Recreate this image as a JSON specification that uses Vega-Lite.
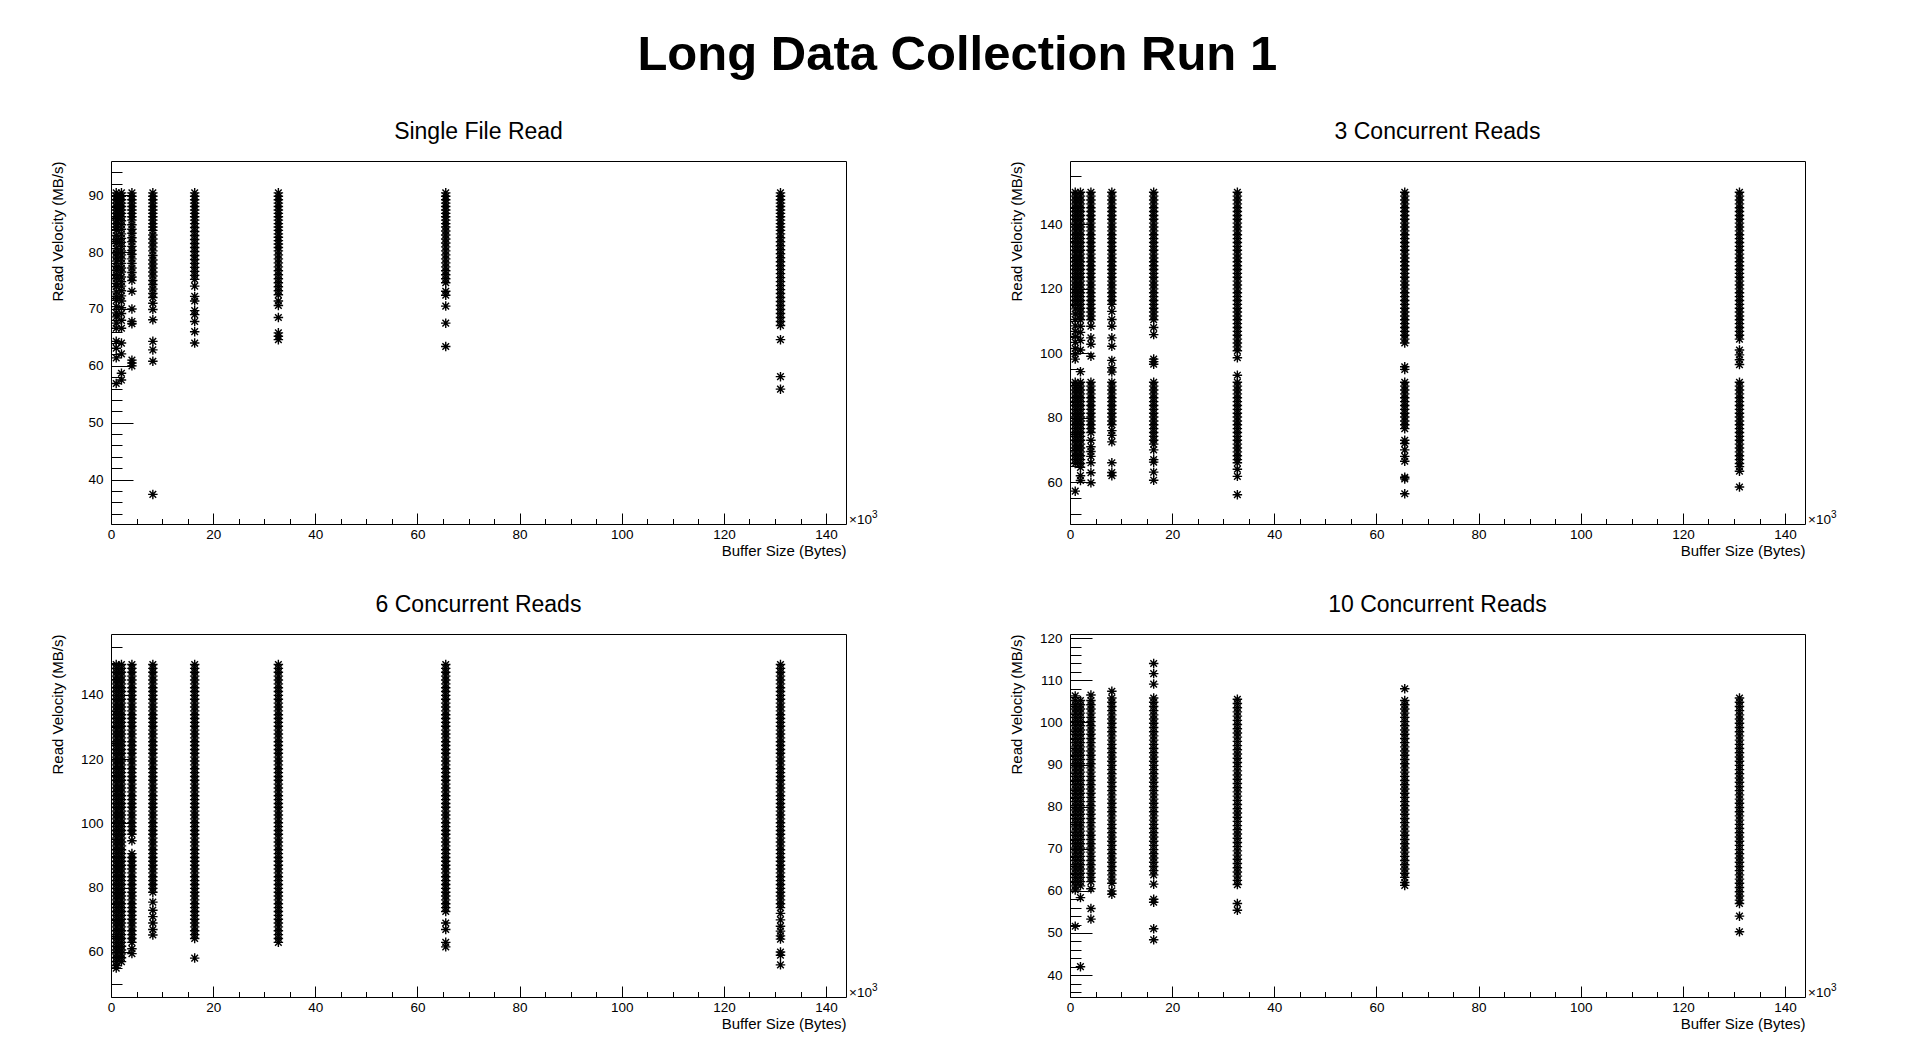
{
  "$schema": "https://vega.github.io/schema/vega-lite/v6.json",
  "background": "white",
  "padding": {"left": 49, "top": 30, "right": 10, "bottom": 5},
  "title": {
    "text": "Long Data Collection Run 1",
    "font": "Liberation Sans",
    "fontSize": 49,
    "fontWeight": "bold",
    "color": "black",
    "anchor": "middle",
    "baseline": "alphabetic",
    "dx": 14,
    "offset": 2
  },
  "config": {
    "view": {"stroke": "black", "strokeWidth": 1},
    "font": "Liberation Sans",
    "title": {"font": "Liberation Sans", "fontSize": 23, "fontWeight": "normal", "color": "black", "baseline": "alphabetic", "offset": 17},
    "axis": {
      "grid": false,
      "domain": false,
      "labelFont": "Liberation Sans",
      "labelFontSize": 13.5,
      "labelColor": "black",
      "labelOverlap": false,
      "labelFlush": false,
      "labelBound": false,
      "titleFont": "Liberation Sans",
      "titleFontSize": 15,
      "titleFontWeight": "normal",
      "titleColor": "black",
      "tickColor": "black",
      "tickWidth": 1
    },
    "point": {"shape": "M-1,0L1,0M0,-1L0,1M-0.7,-0.7L0.7,0.7M-0.7,0.7L0.7,-0.7", "filled": false, "stroke": "black", "strokeWidth": 1.4, "size": 90, "opacity": 1}
  },
  "columns": 2,
  "spacing": {"row": 110, "column": 224},
  "bounds": "flush",
  "datasets": {
    "a": [
      {"x":1024,"y":90.4},{"x":1024,"y":89.8},{"x":1024,"y":89.2},{"x":1024,"y":88.6},{"x":1024,"y":88},{"x":1024,"y":87.4},{"x":1024,"y":86.8},{"x":1024,"y":86.2},{"x":1024,"y":85.6},{"x":1024,"y":85},{"x":1024,"y":84.4},{"x":1024,"y":83.8},{"x":1024,"y":82.9},{"x":1024,"y":82.2},{"x":1024,"y":81.5},{"x":1024,"y":80.6},{"x":1024,"y":79.8},{"x":1024,"y":79.1},{"x":1024,"y":78.4},{"x":1024,"y":77.5},{"x":1024,"y":76.8},{"x":1024,"y":76},{"x":1024,"y":75.3},{"x":1024,"y":74.5},{"x":1024,"y":73.9},{"x":1024,"y":73},{"x":1024,"y":72.2},{"x":1024,"y":71.5},{"x":1024,"y":70.4},{"x":1024,"y":69.3},{"x":1024,"y":68.6},{"x":1024,"y":67.5},{"x":1024,"y":66.6},{"x":1024,"y":64.3},{"x":1024,"y":63.1},{"x":1024,"y":61.4},{"x":1024,"y":56.9},
      {"x":2048,"y":90.4},{"x":2048,"y":89.8},{"x":2048,"y":89.2},{"x":2048,"y":88.6},{"x":2048,"y":88},{"x":2048,"y":87.4},{"x":2048,"y":86.8},{"x":2048,"y":86.2},{"x":2048,"y":85.5},{"x":2048,"y":84.8},{"x":2048,"y":84},{"x":2048,"y":83.2},{"x":2048,"y":82.4},{"x":2048,"y":81.7},{"x":2048,"y":81},{"x":2048,"y":80.2},{"x":2048,"y":79.5},{"x":2048,"y":78.8},{"x":2048,"y":78},{"x":2048,"y":77.2},{"x":2048,"y":76.5},{"x":2048,"y":75.6},{"x":2048,"y":74.8},{"x":2048,"y":74},{"x":2048,"y":73.2},{"x":2048,"y":72.3},{"x":2048,"y":71.4},{"x":2048,"y":70.2},{"x":2048,"y":69.2},{"x":2048,"y":68},{"x":2048,"y":66.6},{"x":2048,"y":64},{"x":2048,"y":62.1},{"x":2048,"y":58.7},{"x":2048,"y":57.5},
      {"x":4096,"y":90.4},{"x":4096,"y":89.8},{"x":4096,"y":89.2},{"x":4096,"y":88.6},{"x":4096,"y":88},{"x":4096,"y":87.4},{"x":4096,"y":86.8},{"x":4096,"y":86.2},{"x":4096,"y":85.6},{"x":4096,"y":84.8},{"x":4096,"y":84},{"x":4096,"y":83.3},{"x":4096,"y":82.5},{"x":4096,"y":81.8},{"x":4096,"y":81},{"x":4096,"y":80.3},{"x":4096,"y":79.6},{"x":4096,"y":78.8},{"x":4096,"y":78},{"x":4096,"y":77.2},{"x":4096,"y":76.4},{"x":4096,"y":75.6},{"x":4096,"y":75},{"x":4096,"y":73.1},{"x":4096,"y":70},{"x":4096,"y":67.8},{"x":4096,"y":67.4},{"x":4096,"y":61},{"x":4096,"y":60.5},{"x":4096,"y":60},
      {"x":8192,"y":90.4},{"x":8192,"y":89.8},{"x":8192,"y":89.2},{"x":8192,"y":88.6},{"x":8192,"y":88},{"x":8192,"y":87.4},{"x":8192,"y":86.8},{"x":8192,"y":86.2},{"x":8192,"y":85.6},{"x":8192,"y":85},{"x":8192,"y":84.4},{"x":8192,"y":83.8},{"x":8192,"y":83},{"x":8192,"y":82.3},{"x":8192,"y":81.6},{"x":8192,"y":80.9},{"x":8192,"y":80.2},{"x":8192,"y":79.4},{"x":8192,"y":78.6},{"x":8192,"y":77.9},{"x":8192,"y":77.2},{"x":8192,"y":76.5},{"x":8192,"y":75.8},{"x":8192,"y":75},{"x":8192,"y":74.3},{"x":8192,"y":73.5},{"x":8192,"y":72.7},{"x":8192,"y":72},{"x":8192,"y":71},{"x":8192,"y":69.9},{"x":8192,"y":68.1},{"x":8192,"y":64.3},{"x":8192,"y":62.8},{"x":8192,"y":60.8},{"x":8192,"y":37.4},
      {"x":16384,"y":90.4},{"x":16384,"y":89.8},{"x":16384,"y":89.2},{"x":16384,"y":88.6},{"x":16384,"y":88},{"x":16384,"y":87.4},{"x":16384,"y":86.8},{"x":16384,"y":86.2},{"x":16384,"y":85.6},{"x":16384,"y":85},{"x":16384,"y":84.3},{"x":16384,"y":83.6},{"x":16384,"y":82.9},{"x":16384,"y":82.2},{"x":16384,"y":81.5},{"x":16384,"y":80.8},{"x":16384,"y":80.1},{"x":16384,"y":79.4},{"x":16384,"y":78.7},{"x":16384,"y":78},{"x":16384,"y":77.3},{"x":16384,"y":76.6},{"x":16384,"y":75.9},{"x":16384,"y":75.2},{"x":16384,"y":74},{"x":16384,"y":72.2},{"x":16384,"y":71.4},{"x":16384,"y":69.7},{"x":16384,"y":69},{"x":16384,"y":67.8},{"x":16384,"y":66},{"x":16384,"y":64},
      {"x":32768,"y":90.4},{"x":32768,"y":89.8},{"x":32768,"y":89.2},{"x":32768,"y":88.6},{"x":32768,"y":88},{"x":32768,"y":87.4},{"x":32768,"y":86.8},{"x":32768,"y":86.2},{"x":32768,"y":85.6},{"x":32768,"y":85},{"x":32768,"y":84.4},{"x":32768,"y":83.8},{"x":32768,"y":83.2},{"x":32768,"y":82.6},{"x":32768,"y":82},{"x":32768,"y":81.4},{"x":32768,"y":80.8},{"x":32768,"y":80.2},{"x":32768,"y":79.5},{"x":32768,"y":78.8},{"x":32768,"y":78.1},{"x":32768,"y":77.4},{"x":32768,"y":76.7},{"x":32768,"y":76},{"x":32768,"y":75.3},{"x":32768,"y":74.6},{"x":32768,"y":73.9},{"x":32768,"y":73.2},{"x":32768,"y":72.5},{"x":32768,"y":71.4},{"x":32768,"y":70.6},{"x":32768,"y":68.5},{"x":32768,"y":65.8},{"x":32768,"y":65.2},{"x":32768,"y":64.6},
      {"x":65536,"y":90.4},{"x":65536,"y":89.8},{"x":65536,"y":89.2},{"x":65536,"y":88.6},{"x":65536,"y":88},{"x":65536,"y":87.4},{"x":65536,"y":86.8},{"x":65536,"y":86.2},{"x":65536,"y":85.6},{"x":65536,"y":85},{"x":65536,"y":84.4},{"x":65536,"y":83.7},{"x":65536,"y":83},{"x":65536,"y":82.3},{"x":65536,"y":81.6},{"x":65536,"y":80.9},{"x":65536,"y":80.2},{"x":65536,"y":79.5},{"x":65536,"y":78.8},{"x":65536,"y":78.1},{"x":65536,"y":77.4},{"x":65536,"y":76.7},{"x":65536,"y":76},{"x":65536,"y":75.3},{"x":65536,"y":74.6},{"x":65536,"y":73.1},{"x":65536,"y":72.4},{"x":65536,"y":70.5},{"x":65536,"y":67.5},{"x":65536,"y":63.4},
      {"x":131072,"y":90.4},{"x":131072,"y":89.8},{"x":131072,"y":89.2},{"x":131072,"y":88.6},{"x":131072,"y":88},{"x":131072,"y":87.4},{"x":131072,"y":86.8},{"x":131072,"y":86.2},{"x":131072,"y":85.6},{"x":131072,"y":85},{"x":131072,"y":84.4},{"x":131072,"y":83.8},{"x":131072,"y":83.2},{"x":131072,"y":82.5},{"x":131072,"y":81.8},{"x":131072,"y":81.1},{"x":131072,"y":80.4},{"x":131072,"y":79.7},{"x":131072,"y":79},{"x":131072,"y":78.3},{"x":131072,"y":77.6},{"x":131072,"y":76.9},{"x":131072,"y":76.2},{"x":131072,"y":75.5},{"x":131072,"y":74.8},{"x":131072,"y":74.1},{"x":131072,"y":73.4},{"x":131072,"y":72.7},{"x":131072,"y":72},{"x":131072,"y":71.3},{"x":131072,"y":70.6},{"x":131072,"y":69.9},{"x":131072,"y":69.2},{"x":131072,"y":68.5},{"x":131072,"y":67.8},{"x":131072,"y":67.1},{"x":131072,"y":64.6},{"x":131072,"y":58.1},{"x":131072,"y":55.9}
    ],
    "b": [
      {"x":1024,"y":150},{"x":1024,"y":148.8},{"x":1024,"y":147.6},{"x":1024,"y":146.4},{"x":1024,"y":145.2},{"x":1024,"y":144},{"x":1024,"y":142.8},{"x":1024,"y":141.6},{"x":1024,"y":140.4},{"x":1024,"y":139.2},{"x":1024,"y":138},{"x":1024,"y":136.8},{"x":1024,"y":135.6},{"x":1024,"y":134.4},{"x":1024,"y":133.2},{"x":1024,"y":132},{"x":1024,"y":130.8},{"x":1024,"y":129.6},{"x":1024,"y":128.4},{"x":1024,"y":127.2},{"x":1024,"y":126},{"x":1024,"y":124.8},{"x":1024,"y":123.6},{"x":1024,"y":122.4},{"x":1024,"y":121.2},{"x":1024,"y":120},{"x":1024,"y":118.8},{"x":1024,"y":117.6},{"x":1024,"y":116.4},{"x":1024,"y":115.2},{"x":1024,"y":113.8},{"x":1024,"y":112.2},{"x":1024,"y":110.5},{"x":1024,"y":108.5},{"x":1024,"y":106.8},{"x":1024,"y":105.2},{"x":1024,"y":103.4},{"x":1024,"y":101.5},{"x":1024,"y":99.8},{"x":1024,"y":98.2},
      {"x":1024,"y":91},{"x":1024,"y":89.8},{"x":1024,"y":88.6},{"x":1024,"y":87.4},{"x":1024,"y":86.2},{"x":1024,"y":85},{"x":1024,"y":83.8},{"x":1024,"y":82.6},{"x":1024,"y":81.4},{"x":1024,"y":80.2},{"x":1024,"y":79},{"x":1024,"y":77.8},{"x":1024,"y":76.6},{"x":1024,"y":75.4},{"x":1024,"y":74.2},{"x":1024,"y":73},{"x":1024,"y":71.8},{"x":1024,"y":70.6},{"x":1024,"y":69.4},{"x":1024,"y":68.2},{"x":1024,"y":67},{"x":1024,"y":65.8},{"x":1024,"y":57.2},
      {"x":2048,"y":150},{"x":2048,"y":148.8},{"x":2048,"y":147.6},{"x":2048,"y":146.4},{"x":2048,"y":145.2},{"x":2048,"y":144},{"x":2048,"y":142.8},{"x":2048,"y":141.6},{"x":2048,"y":140.4},{"x":2048,"y":139.2},{"x":2048,"y":138},{"x":2048,"y":136.8},{"x":2048,"y":135.6},{"x":2048,"y":134.4},{"x":2048,"y":133.2},{"x":2048,"y":132},{"x":2048,"y":130.8},{"x":2048,"y":129.6},{"x":2048,"y":128.4},{"x":2048,"y":127.2},{"x":2048,"y":126},{"x":2048,"y":124.8},{"x":2048,"y":123.6},{"x":2048,"y":122.4},{"x":2048,"y":121.2},{"x":2048,"y":120},{"x":2048,"y":118.8},{"x":2048,"y":117.6},{"x":2048,"y":116.4},{"x":2048,"y":115.2},{"x":2048,"y":114},{"x":2048,"y":112.8},{"x":2048,"y":111.6},{"x":2048,"y":110.4},{"x":2048,"y":108.4},{"x":2048,"y":106.5},{"x":2048,"y":104},{"x":2048,"y":101},{"x":2048,"y":94.3},
      {"x":2048,"y":91},{"x":2048,"y":89.8},{"x":2048,"y":88.6},{"x":2048,"y":87.4},{"x":2048,"y":86.2},{"x":2048,"y":85},{"x":2048,"y":83.8},{"x":2048,"y":82.6},{"x":2048,"y":81.4},{"x":2048,"y":80.2},{"x":2048,"y":79},{"x":2048,"y":77.8},{"x":2048,"y":76.6},{"x":2048,"y":75.4},{"x":2048,"y":74.2},{"x":2048,"y":73},{"x":2048,"y":71.8},{"x":2048,"y":70.6},{"x":2048,"y":69.4},{"x":2048,"y":68.2},{"x":2048,"y":67},{"x":2048,"y":65.8},{"x":2048,"y":64.6},{"x":2048,"y":62},{"x":2048,"y":60.5},
      {"x":4096,"y":150},{"x":4096,"y":148.8},{"x":4096,"y":147.6},{"x":4096,"y":146.4},{"x":4096,"y":145.2},{"x":4096,"y":144},{"x":4096,"y":142.8},{"x":4096,"y":141.6},{"x":4096,"y":140.4},{"x":4096,"y":139.2},{"x":4096,"y":138},{"x":4096,"y":136.8},{"x":4096,"y":135.6},{"x":4096,"y":134.4},{"x":4096,"y":133.2},{"x":4096,"y":132},{"x":4096,"y":130.8},{"x":4096,"y":129.6},{"x":4096,"y":128.4},{"x":4096,"y":127.2},{"x":4096,"y":126},{"x":4096,"y":124.8},{"x":4096,"y":123.6},{"x":4096,"y":122.4},{"x":4096,"y":121.2},{"x":4096,"y":120},{"x":4096,"y":118.8},{"x":4096,"y":117.6},{"x":4096,"y":116.4},{"x":4096,"y":115.2},{"x":4096,"y":114},{"x":4096,"y":112.8},{"x":4096,"y":111.6},{"x":4096,"y":110.4},{"x":4096,"y":108.4},{"x":4096,"y":104.8},{"x":4096,"y":102.8},{"x":4096,"y":99.1},
      {"x":4096,"y":91},{"x":4096,"y":89.8},{"x":4096,"y":88.6},{"x":4096,"y":87.4},{"x":4096,"y":86.2},{"x":4096,"y":85},{"x":4096,"y":83.8},{"x":4096,"y":82.6},{"x":4096,"y":81.4},{"x":4096,"y":80.2},{"x":4096,"y":79},{"x":4096,"y":77.8},{"x":4096,"y":76.6},{"x":4096,"y":75.4},{"x":4096,"y":73},{"x":4096,"y":71},{"x":4096,"y":69.5},{"x":4096,"y":68},{"x":4096,"y":66},{"x":4096,"y":62.9},{"x":4096,"y":59.8},
      {"x":8192,"y":150},{"x":8192,"y":148.8},{"x":8192,"y":147.6},{"x":8192,"y":146.4},{"x":8192,"y":145.2},{"x":8192,"y":144},{"x":8192,"y":142.8},{"x":8192,"y":141.6},{"x":8192,"y":140.4},{"x":8192,"y":139.2},{"x":8192,"y":138},{"x":8192,"y":136.8},{"x":8192,"y":135.6},{"x":8192,"y":134.4},{"x":8192,"y":133.2},{"x":8192,"y":132},{"x":8192,"y":130.8},{"x":8192,"y":129.6},{"x":8192,"y":128.4},{"x":8192,"y":127.2},{"x":8192,"y":126},{"x":8192,"y":124.8},{"x":8192,"y":123.6},{"x":8192,"y":122.4},{"x":8192,"y":121.2},{"x":8192,"y":120},{"x":8192,"y":118.8},{"x":8192,"y":117.6},{"x":8192,"y":116.4},{"x":8192,"y":115.2},{"x":8192,"y":113},{"x":8192,"y":110.5},{"x":8192,"y":108.4},{"x":8192,"y":104.8},{"x":8192,"y":102.2},{"x":8192,"y":97.8},{"x":8192,"y":95.5},{"x":8192,"y":94.2},
      {"x":8192,"y":91},{"x":8192,"y":89.8},{"x":8192,"y":88.6},{"x":8192,"y":87.4},{"x":8192,"y":86.2},{"x":8192,"y":85},{"x":8192,"y":83.8},{"x":8192,"y":82.6},{"x":8192,"y":81.4},{"x":8192,"y":80.2},{"x":8192,"y":79},{"x":8192,"y":77.8},{"x":8192,"y":76},{"x":8192,"y":74.5},{"x":8192,"y":72.5},{"x":8192,"y":66},{"x":8192,"y":63},{"x":8192,"y":62},
      {"x":16384,"y":150},{"x":16384,"y":148.8},{"x":16384,"y":147.6},{"x":16384,"y":146.4},{"x":16384,"y":145.2},{"x":16384,"y":144},{"x":16384,"y":142.8},{"x":16384,"y":141.6},{"x":16384,"y":140.4},{"x":16384,"y":139.2},{"x":16384,"y":138},{"x":16384,"y":136.8},{"x":16384,"y":135.6},{"x":16384,"y":134.4},{"x":16384,"y":133.2},{"x":16384,"y":132},{"x":16384,"y":130.8},{"x":16384,"y":129.6},{"x":16384,"y":128.4},{"x":16384,"y":127.2},{"x":16384,"y":126},{"x":16384,"y":124.8},{"x":16384,"y":123.6},{"x":16384,"y":122.4},{"x":16384,"y":121.2},{"x":16384,"y":120},{"x":16384,"y":118.8},{"x":16384,"y":117.6},{"x":16384,"y":116.4},{"x":16384,"y":115.2},{"x":16384,"y":114},{"x":16384,"y":112.8},{"x":16384,"y":111.6},{"x":16384,"y":110.4},{"x":16384,"y":108},{"x":16384,"y":105.8},{"x":16384,"y":98.2},{"x":16384,"y":97.4},{"x":16384,"y":96.6},
      {"x":16384,"y":91},{"x":16384,"y":89.8},{"x":16384,"y":88.6},{"x":16384,"y":87.4},{"x":16384,"y":86.2},{"x":16384,"y":85},{"x":16384,"y":83.8},{"x":16384,"y":82.6},{"x":16384,"y":81.4},{"x":16384,"y":80.2},{"x":16384,"y":79},{"x":16384,"y":77.8},{"x":16384,"y":76.6},{"x":16384,"y":75.4},{"x":16384,"y":74.2},{"x":16384,"y":73},{"x":16384,"y":71.8},{"x":16384,"y":70},{"x":16384,"y":67},{"x":16384,"y":66.2},{"x":16384,"y":63.1},{"x":16384,"y":60.6},
      {"x":32768,"y":150},{"x":32768,"y":148.8},{"x":32768,"y":147.6},{"x":32768,"y":146.4},{"x":32768,"y":145.2},{"x":32768,"y":144},{"x":32768,"y":142.8},{"x":32768,"y":141.6},{"x":32768,"y":140.4},{"x":32768,"y":139.2},{"x":32768,"y":138},{"x":32768,"y":136.8},{"x":32768,"y":135.6},{"x":32768,"y":134.4},{"x":32768,"y":133.2},{"x":32768,"y":132},{"x":32768,"y":130.8},{"x":32768,"y":129.6},{"x":32768,"y":128.4},{"x":32768,"y":127.2},{"x":32768,"y":126},{"x":32768,"y":124.8},{"x":32768,"y":123.6},{"x":32768,"y":122.4},{"x":32768,"y":121.2},{"x":32768,"y":120},{"x":32768,"y":118.8},{"x":32768,"y":117.6},{"x":32768,"y":116.4},{"x":32768,"y":115.2},{"x":32768,"y":114},{"x":32768,"y":112.8},{"x":32768,"y":111.6},{"x":32768,"y":110.4},{"x":32768,"y":109.2},{"x":32768,"y":108},{"x":32768,"y":106.8},{"x":32768,"y":105.6},{"x":32768,"y":104.4},{"x":32768,"y":103.2},{"x":32768,"y":102},{"x":32768,"y":100.8},{"x":32768,"y":98.6},{"x":32768,"y":93.2},
      {"x":32768,"y":91},{"x":32768,"y":89.8},{"x":32768,"y":88.6},{"x":32768,"y":87.4},{"x":32768,"y":86.2},{"x":32768,"y":85},{"x":32768,"y":83.8},{"x":32768,"y":82.6},{"x":32768,"y":81.4},{"x":32768,"y":80.2},{"x":32768,"y":79},{"x":32768,"y":77.8},{"x":32768,"y":76.6},{"x":32768,"y":75.4},{"x":32768,"y":74.2},{"x":32768,"y":73},{"x":32768,"y":71.8},{"x":32768,"y":70.6},{"x":32768,"y":69.4},{"x":32768,"y":68.2},{"x":32768,"y":67},{"x":32768,"y":66},{"x":32768,"y":64},{"x":32768,"y":61.8},{"x":32768,"y":56.1},
      {"x":65536,"y":150},{"x":65536,"y":148.8},{"x":65536,"y":147.6},{"x":65536,"y":146.4},{"x":65536,"y":145.2},{"x":65536,"y":144},{"x":65536,"y":142.8},{"x":65536,"y":141.6},{"x":65536,"y":140.4},{"x":65536,"y":139.2},{"x":65536,"y":138},{"x":65536,"y":136.8},{"x":65536,"y":135.6},{"x":65536,"y":134.4},{"x":65536,"y":133.2},{"x":65536,"y":132},{"x":65536,"y":130.8},{"x":65536,"y":129.6},{"x":65536,"y":128.4},{"x":65536,"y":127.2},{"x":65536,"y":126},{"x":65536,"y":124.8},{"x":65536,"y":123.6},{"x":65536,"y":122.4},{"x":65536,"y":121.2},{"x":65536,"y":120},{"x":65536,"y":118.8},{"x":65536,"y":117.6},{"x":65536,"y":116.4},{"x":65536,"y":115.2},{"x":65536,"y":114},{"x":65536,"y":112.8},{"x":65536,"y":111.6},{"x":65536,"y":110.4},{"x":65536,"y":109.2},{"x":65536,"y":108},{"x":65536,"y":106.8},{"x":65536,"y":105.6},{"x":65536,"y":104.4},{"x":65536,"y":103.2},{"x":65536,"y":95.8},{"x":65536,"y":95},
      {"x":65536,"y":91},{"x":65536,"y":89.8},{"x":65536,"y":88.6},{"x":65536,"y":87.4},{"x":65536,"y":86.2},{"x":65536,"y":85},{"x":65536,"y":83.8},{"x":65536,"y":82.6},{"x":65536,"y":81.4},{"x":65536,"y":80.2},{"x":65536,"y":79},{"x":65536,"y":77.8},{"x":65536,"y":76.6},{"x":65536,"y":73},{"x":65536,"y":72},{"x":65536,"y":70},{"x":65536,"y":68},{"x":65536,"y":66.5},{"x":65536,"y":61.5},{"x":65536,"y":61},{"x":65536,"y":56.4},
      {"x":131072,"y":150},{"x":131072,"y":148.8},{"x":131072,"y":147.6},{"x":131072,"y":146.4},{"x":131072,"y":145.2},{"x":131072,"y":144},{"x":131072,"y":142.8},{"x":131072,"y":141.6},{"x":131072,"y":140.4},{"x":131072,"y":139.2},{"x":131072,"y":138},{"x":131072,"y":136.8},{"x":131072,"y":135.6},{"x":131072,"y":134.4},{"x":131072,"y":133.2},{"x":131072,"y":132},{"x":131072,"y":130.8},{"x":131072,"y":129.6},{"x":131072,"y":128.4},{"x":131072,"y":127.2},{"x":131072,"y":126},{"x":131072,"y":124.8},{"x":131072,"y":123.6},{"x":131072,"y":122.4},{"x":131072,"y":121.2},{"x":131072,"y":120},{"x":131072,"y":118.8},{"x":131072,"y":117.6},{"x":131072,"y":116.4},{"x":131072,"y":115.2},{"x":131072,"y":114},{"x":131072,"y":112.8},{"x":131072,"y":111.6},{"x":131072,"y":110.4},{"x":131072,"y":109.2},{"x":131072,"y":108},{"x":131072,"y":106.8},{"x":131072,"y":105.6},{"x":131072,"y":104.4},{"x":131072,"y":101},{"x":131072,"y":99.5},{"x":131072,"y":98},{"x":131072,"y":96.5},
      {"x":131072,"y":91},{"x":131072,"y":89.8},{"x":131072,"y":88.6},{"x":131072,"y":87.4},{"x":131072,"y":86.2},{"x":131072,"y":85},{"x":131072,"y":83.8},{"x":131072,"y":82.6},{"x":131072,"y":81.4},{"x":131072,"y":80.2},{"x":131072,"y":79},{"x":131072,"y":77.8},{"x":131072,"y":76.6},{"x":131072,"y":75.4},{"x":131072,"y":74.2},{"x":131072,"y":73},{"x":131072,"y":71.8},{"x":131072,"y":70.6},{"x":131072,"y":69.4},{"x":131072,"y":68.2},{"x":131072,"y":67},{"x":131072,"y":65.8},{"x":131072,"y":64.8},{"x":131072,"y":63.4},{"x":131072,"y":58.5}
    ],
    "c": [
      {"x":1024,"y":149.4},{"x":1024,"y":148.2},{"x":1024,"y":147},{"x":1024,"y":145.8},{"x":1024,"y":144.6},{"x":1024,"y":143.4},{"x":1024,"y":142.2},{"x":1024,"y":141},{"x":1024,"y":139.8},{"x":1024,"y":138.6},{"x":1024,"y":137.4},{"x":1024,"y":136.2},{"x":1024,"y":135},{"x":1024,"y":133.8},{"x":1024,"y":132.6},{"x":1024,"y":131.4},{"x":1024,"y":130.2},{"x":1024,"y":129},{"x":1024,"y":127.8},{"x":1024,"y":126.6},{"x":1024,"y":125.4},{"x":1024,"y":124.2},{"x":1024,"y":123},{"x":1024,"y":121.8},{"x":1024,"y":120.6},{"x":1024,"y":119.4},{"x":1024,"y":118.2},{"x":1024,"y":117},{"x":1024,"y":115.8},{"x":1024,"y":114.6},{"x":1024,"y":113.4},{"x":1024,"y":112.2},{"x":1024,"y":111},{"x":1024,"y":109.8},{"x":1024,"y":108.6},{"x":1024,"y":107.4},{"x":1024,"y":106.2},{"x":1024,"y":105},{"x":1024,"y":103.8},{"x":1024,"y":102.6},{"x":1024,"y":101.4},{"x":1024,"y":100.2},{"x":1024,"y":99},{"x":1024,"y":97.8},{"x":1024,"y":96.6},{"x":1024,"y":95.4},{"x":1024,"y":94.2},{"x":1024,"y":93},{"x":1024,"y":91.8},{"x":1024,"y":90.6},{"x":1024,"y":89.4},{"x":1024,"y":88.2},{"x":1024,"y":87},{"x":1024,"y":85.8},{"x":1024,"y":84.6},{"x":1024,"y":83.4},{"x":1024,"y":82.2},{"x":1024,"y":81},{"x":1024,"y":79.8},{"x":1024,"y":78.6},{"x":1024,"y":77.4},{"x":1024,"y":76.2},{"x":1024,"y":75},{"x":1024,"y":73.8},{"x":1024,"y":72.6},{"x":1024,"y":71.4},{"x":1024,"y":70.2},{"x":1024,"y":69},{"x":1024,"y":67.8},{"x":1024,"y":66.6},{"x":1024,"y":65.4},{"x":1024,"y":64.2},{"x":1024,"y":63},{"x":1024,"y":61.8},{"x":1024,"y":60.6},{"x":1024,"y":59.4},{"x":1024,"y":58.2},{"x":1024,"y":57},{"x":1024,"y":55.8},{"x":1024,"y":55},
      {"x":2048,"y":149.4},{"x":2048,"y":148.2},{"x":2048,"y":147},{"x":2048,"y":145.8},{"x":2048,"y":144.6},{"x":2048,"y":143.4},{"x":2048,"y":142.2},{"x":2048,"y":141},{"x":2048,"y":139.8},{"x":2048,"y":138.6},{"x":2048,"y":137.4},{"x":2048,"y":136.2},{"x":2048,"y":135},{"x":2048,"y":133.8},{"x":2048,"y":132.6},{"x":2048,"y":131.4},{"x":2048,"y":130.2},{"x":2048,"y":129},{"x":2048,"y":127.8},{"x":2048,"y":126.6},{"x":2048,"y":125.4},{"x":2048,"y":124.2},{"x":2048,"y":123},{"x":2048,"y":121.8},{"x":2048,"y":120.6},{"x":2048,"y":119.4},{"x":2048,"y":118.2},{"x":2048,"y":117},{"x":2048,"y":115.8},{"x":2048,"y":114.6},{"x":2048,"y":113.4},{"x":2048,"y":112.2},{"x":2048,"y":111},{"x":2048,"y":109.8},{"x":2048,"y":108.6},{"x":2048,"y":107.4},{"x":2048,"y":106.2},{"x":2048,"y":105},{"x":2048,"y":103.8},{"x":2048,"y":102.6},{"x":2048,"y":101.4},{"x":2048,"y":100.2},{"x":2048,"y":99},{"x":2048,"y":97.8},{"x":2048,"y":96.6},{"x":2048,"y":95.4},{"x":2048,"y":94.2},{"x":2048,"y":93},{"x":2048,"y":91.8},{"x":2048,"y":90.6},{"x":2048,"y":89.4},{"x":2048,"y":88.2},{"x":2048,"y":87},{"x":2048,"y":85.8},{"x":2048,"y":84.6},{"x":2048,"y":83.4},{"x":2048,"y":82.2},{"x":2048,"y":81},{"x":2048,"y":79.8},{"x":2048,"y":78.6},{"x":2048,"y":77.4},{"x":2048,"y":76.2},{"x":2048,"y":75},{"x":2048,"y":73.8},{"x":2048,"y":72.6},{"x":2048,"y":71.4},{"x":2048,"y":70.2},{"x":2048,"y":69},{"x":2048,"y":67.8},{"x":2048,"y":66.6},{"x":2048,"y":65.4},{"x":2048,"y":64.2},{"x":2048,"y":63},{"x":2048,"y":61.8},{"x":2048,"y":60.6},{"x":2048,"y":59.4},{"x":2048,"y":58.2},{"x":2048,"y":57},
      {"x":4096,"y":149.4},{"x":4096,"y":148.2},{"x":4096,"y":147},{"x":4096,"y":145.8},{"x":4096,"y":144.6},{"x":4096,"y":143.4},{"x":4096,"y":142.2},{"x":4096,"y":141},{"x":4096,"y":139.8},{"x":4096,"y":138.6},{"x":4096,"y":137.4},{"x":4096,"y":136.2},{"x":4096,"y":135},{"x":4096,"y":133.8},{"x":4096,"y":132.6},{"x":4096,"y":131.4},{"x":4096,"y":130.2},{"x":4096,"y":129},{"x":4096,"y":127.8},{"x":4096,"y":126.6},{"x":4096,"y":125.4},{"x":4096,"y":124.2},{"x":4096,"y":123},{"x":4096,"y":121.8},{"x":4096,"y":120.6},{"x":4096,"y":119.4},{"x":4096,"y":118.2},{"x":4096,"y":117},{"x":4096,"y":115.8},{"x":4096,"y":114.6},{"x":4096,"y":113.4},{"x":4096,"y":112.2},{"x":4096,"y":111},{"x":4096,"y":109.8},{"x":4096,"y":108.6},{"x":4096,"y":107.4},{"x":4096,"y":106.2},{"x":4096,"y":105},{"x":4096,"y":103.8},{"x":4096,"y":102.6},{"x":4096,"y":101.4},{"x":4096,"y":100.2},{"x":4096,"y":99},{"x":4096,"y":97.8},{"x":4096,"y":96.6},{"x":4096,"y":94.6},{"x":4096,"y":90.6},{"x":4096,"y":89.4},{"x":4096,"y":88.2},{"x":4096,"y":87},{"x":4096,"y":85.8},{"x":4096,"y":84.6},{"x":4096,"y":83.4},{"x":4096,"y":82.2},{"x":4096,"y":81},{"x":4096,"y":79.8},{"x":4096,"y":78.6},{"x":4096,"y":77.4},{"x":4096,"y":76.2},{"x":4096,"y":75},{"x":4096,"y":73.8},{"x":4096,"y":72.6},{"x":4096,"y":71.4},{"x":4096,"y":70.2},{"x":4096,"y":69},{"x":4096,"y":67.8},{"x":4096,"y":66.6},{"x":4096,"y":65.4},{"x":4096,"y":64.2},{"x":4096,"y":63},{"x":4096,"y":61},{"x":4096,"y":59.5},
      {"x":8192,"y":149.4},{"x":8192,"y":148.2},{"x":8192,"y":147},{"x":8192,"y":145.8},{"x":8192,"y":144.6},{"x":8192,"y":143.4},{"x":8192,"y":142.2},{"x":8192,"y":141},{"x":8192,"y":139.8},{"x":8192,"y":138.6},{"x":8192,"y":137.4},{"x":8192,"y":136.2},{"x":8192,"y":135},{"x":8192,"y":133.8},{"x":8192,"y":132.6},{"x":8192,"y":131.4},{"x":8192,"y":130.2},{"x":8192,"y":129},{"x":8192,"y":127.8},{"x":8192,"y":126.6},{"x":8192,"y":125.4},{"x":8192,"y":124.2},{"x":8192,"y":123},{"x":8192,"y":121.8},{"x":8192,"y":120.6},{"x":8192,"y":119.4},{"x":8192,"y":118.2},{"x":8192,"y":117},{"x":8192,"y":115.8},{"x":8192,"y":114.6},{"x":8192,"y":113.4},{"x":8192,"y":112.2},{"x":8192,"y":111},{"x":8192,"y":109.8},{"x":8192,"y":108.6},{"x":8192,"y":107.4},{"x":8192,"y":106.2},{"x":8192,"y":105},{"x":8192,"y":103.8},{"x":8192,"y":102.6},{"x":8192,"y":101.4},{"x":8192,"y":100.2},{"x":8192,"y":99},{"x":8192,"y":97.8},{"x":8192,"y":96.6},{"x":8192,"y":95.4},{"x":8192,"y":94.2},{"x":8192,"y":93},{"x":8192,"y":91.8},{"x":8192,"y":90.6},{"x":8192,"y":89.4},{"x":8192,"y":88.2},{"x":8192,"y":87},{"x":8192,"y":85.8},{"x":8192,"y":84.6},{"x":8192,"y":83.4},{"x":8192,"y":82.2},{"x":8192,"y":81},{"x":8192,"y":79.8},{"x":8192,"y":78.6},{"x":8192,"y":75.5},{"x":8192,"y":73},{"x":8192,"y":71},{"x":8192,"y":69},{"x":8192,"y":67},{"x":8192,"y":65.3},
      {"x":16384,"y":149.4},{"x":16384,"y":148.2},{"x":16384,"y":147},{"x":16384,"y":145.8},{"x":16384,"y":144.6},{"x":16384,"y":143.4},{"x":16384,"y":142.2},{"x":16384,"y":141},{"x":16384,"y":139.8},{"x":16384,"y":138.6},{"x":16384,"y":137.4},{"x":16384,"y":136.2},{"x":16384,"y":135},{"x":16384,"y":133.8},{"x":16384,"y":132.6},{"x":16384,"y":131.4},{"x":16384,"y":130.2},{"x":16384,"y":129},{"x":16384,"y":127.8},{"x":16384,"y":126.6},{"x":16384,"y":125.4},{"x":16384,"y":124.2},{"x":16384,"y":123},{"x":16384,"y":121.8},{"x":16384,"y":120.6},{"x":16384,"y":119.4},{"x":16384,"y":118.2},{"x":16384,"y":117},{"x":16384,"y":115.8},{"x":16384,"y":114.6},{"x":16384,"y":113.4},{"x":16384,"y":112.2},{"x":16384,"y":111},{"x":16384,"y":109.8},{"x":16384,"y":108.6},{"x":16384,"y":107.4},{"x":16384,"y":106.2},{"x":16384,"y":105},{"x":16384,"y":103.8},{"x":16384,"y":102.6},{"x":16384,"y":101.4},{"x":16384,"y":100.2},{"x":16384,"y":99},{"x":16384,"y":97.8},{"x":16384,"y":96.6},{"x":16384,"y":95.4},{"x":16384,"y":94.2},{"x":16384,"y":93},{"x":16384,"y":91.8},{"x":16384,"y":90.6},{"x":16384,"y":89.4},{"x":16384,"y":88.2},{"x":16384,"y":87},{"x":16384,"y":85.8},{"x":16384,"y":84.6},{"x":16384,"y":83.4},{"x":16384,"y":82.2},{"x":16384,"y":81},{"x":16384,"y":79.8},{"x":16384,"y":78.6},{"x":16384,"y":77.4},{"x":16384,"y":76.2},{"x":16384,"y":75},{"x":16384,"y":73.8},{"x":16384,"y":72.6},{"x":16384,"y":71.4},{"x":16384,"y":70.2},{"x":16384,"y":69},{"x":16384,"y":67.8},{"x":16384,"y":66.6},{"x":16384,"y":65.4},{"x":16384,"y":64.2},{"x":16384,"y":58.1},
      {"x":32768,"y":149.4},{"x":32768,"y":148.2},{"x":32768,"y":147},{"x":32768,"y":145.8},{"x":32768,"y":144.6},{"x":32768,"y":143.4},{"x":32768,"y":142.2},{"x":32768,"y":141},{"x":32768,"y":139.8},{"x":32768,"y":138.6},{"x":32768,"y":137.4},{"x":32768,"y":136.2},{"x":32768,"y":135},{"x":32768,"y":133.8},{"x":32768,"y":132.6},{"x":32768,"y":131.4},{"x":32768,"y":130.2},{"x":32768,"y":129},{"x":32768,"y":127.8},{"x":32768,"y":126.6},{"x":32768,"y":125.4},{"x":32768,"y":124.2},{"x":32768,"y":123},{"x":32768,"y":121.8},{"x":32768,"y":120.6},{"x":32768,"y":119.4},{"x":32768,"y":118.2},{"x":32768,"y":117},{"x":32768,"y":115.8},{"x":32768,"y":114.6},{"x":32768,"y":113.4},{"x":32768,"y":112.2},{"x":32768,"y":111},{"x":32768,"y":109.8},{"x":32768,"y":108.6},{"x":32768,"y":107.4},{"x":32768,"y":106.2},{"x":32768,"y":105},{"x":32768,"y":103.8},{"x":32768,"y":102.6},{"x":32768,"y":101.4},{"x":32768,"y":100.2},{"x":32768,"y":99},{"x":32768,"y":97.8},{"x":32768,"y":96.6},{"x":32768,"y":95.4},{"x":32768,"y":94.2},{"x":32768,"y":93},{"x":32768,"y":91.8},{"x":32768,"y":90.6},{"x":32768,"y":89.4},{"x":32768,"y":88.2},{"x":32768,"y":87},{"x":32768,"y":85.8},{"x":32768,"y":84.6},{"x":32768,"y":83.4},{"x":32768,"y":82.2},{"x":32768,"y":81},{"x":32768,"y":79.8},{"x":32768,"y":78.6},{"x":32768,"y":77.4},{"x":32768,"y":76.2},{"x":32768,"y":75},{"x":32768,"y":73.8},{"x":32768,"y":72.6},{"x":32768,"y":71.4},{"x":32768,"y":70.2},{"x":32768,"y":69},{"x":32768,"y":67.8},{"x":32768,"y":66.6},{"x":32768,"y":65.4},{"x":32768,"y":64.2},{"x":32768,"y":63},
      {"x":65536,"y":149.4},{"x":65536,"y":148.2},{"x":65536,"y":147},{"x":65536,"y":145.8},{"x":65536,"y":144.6},{"x":65536,"y":143.4},{"x":65536,"y":142.2},{"x":65536,"y":141},{"x":65536,"y":139.8},{"x":65536,"y":138.6},{"x":65536,"y":137.4},{"x":65536,"y":136.2},{"x":65536,"y":135},{"x":65536,"y":133.8},{"x":65536,"y":132.6},{"x":65536,"y":131.4},{"x":65536,"y":130.2},{"x":65536,"y":129},{"x":65536,"y":127.8},{"x":65536,"y":126.6},{"x":65536,"y":125.4},{"x":65536,"y":124.2},{"x":65536,"y":123},{"x":65536,"y":121.8},{"x":65536,"y":120.6},{"x":65536,"y":119.4},{"x":65536,"y":118.2},{"x":65536,"y":117},{"x":65536,"y":115.8},{"x":65536,"y":114.6},{"x":65536,"y":113.4},{"x":65536,"y":112.2},{"x":65536,"y":111},{"x":65536,"y":109.8},{"x":65536,"y":108.6},{"x":65536,"y":107.4},{"x":65536,"y":106.2},{"x":65536,"y":105},{"x":65536,"y":103.8},{"x":65536,"y":102.6},{"x":65536,"y":101.4},{"x":65536,"y":100.2},{"x":65536,"y":99},{"x":65536,"y":97.8},{"x":65536,"y":96.6},{"x":65536,"y":95.4},{"x":65536,"y":94.2},{"x":65536,"y":93},{"x":65536,"y":91.8},{"x":65536,"y":90.6},{"x":65536,"y":89.4},{"x":65536,"y":88.2},{"x":65536,"y":87},{"x":65536,"y":85.8},{"x":65536,"y":84.6},{"x":65536,"y":83.4},{"x":65536,"y":82.2},{"x":65536,"y":81},{"x":65536,"y":79.8},{"x":65536,"y":78.6},{"x":65536,"y":77.4},{"x":65536,"y":76.2},{"x":65536,"y":75},{"x":65536,"y":73.8},{"x":65536,"y":72.6},{"x":65536,"y":69},{"x":65536,"y":67},{"x":65536,"y":63},{"x":65536,"y":61.6},
      {"x":131072,"y":149.4},{"x":131072,"y":148.2},{"x":131072,"y":147},{"x":131072,"y":145.8},{"x":131072,"y":144.6},{"x":131072,"y":143.4},{"x":131072,"y":142.2},{"x":131072,"y":141},{"x":131072,"y":139.8},{"x":131072,"y":138.6},{"x":131072,"y":137.4},{"x":131072,"y":136.2},{"x":131072,"y":135},{"x":131072,"y":133.8},{"x":131072,"y":132.6},{"x":131072,"y":131.4},{"x":131072,"y":130.2},{"x":131072,"y":129},{"x":131072,"y":127.8},{"x":131072,"y":126.6},{"x":131072,"y":125.4},{"x":131072,"y":124.2},{"x":131072,"y":123},{"x":131072,"y":121.8},{"x":131072,"y":120.6},{"x":131072,"y":119.4},{"x":131072,"y":118.2},{"x":131072,"y":117},{"x":131072,"y":115.8},{"x":131072,"y":114.6},{"x":131072,"y":113.4},{"x":131072,"y":112.2},{"x":131072,"y":111},{"x":131072,"y":109.8},{"x":131072,"y":108.6},{"x":131072,"y":107.4},{"x":131072,"y":106.2},{"x":131072,"y":105},{"x":131072,"y":103.8},{"x":131072,"y":102.6},{"x":131072,"y":101.4},{"x":131072,"y":100.2},{"x":131072,"y":99},{"x":131072,"y":97.8},{"x":131072,"y":96.6},{"x":131072,"y":95.4},{"x":131072,"y":94.2},{"x":131072,"y":93},{"x":131072,"y":91.8},{"x":131072,"y":90.6},{"x":131072,"y":89.4},{"x":131072,"y":88.2},{"x":131072,"y":87},{"x":131072,"y":85.8},{"x":131072,"y":84.6},{"x":131072,"y":83.4},{"x":131072,"y":82.2},{"x":131072,"y":81},{"x":131072,"y":79.8},{"x":131072,"y":78.6},{"x":131072,"y":77.4},{"x":131072,"y":76.2},{"x":131072,"y":75},{"x":131072,"y":73.8},{"x":131072,"y":72},{"x":131072,"y":70},{"x":131072,"y":68},{"x":131072,"y":66.5},{"x":131072,"y":65},{"x":131072,"y":64},{"x":131072,"y":60},{"x":131072,"y":59},{"x":131072,"y":56}
    ],
    "d": [
      {"x":1024,"y":106.3},{"x":1024,"y":105.2},{"x":1024,"y":104.2},{"x":1024,"y":103.2},{"x":1024,"y":102.2},{"x":1024,"y":101.2},{"x":1024,"y":100.2},{"x":1024,"y":99.2},{"x":1024,"y":98.2},{"x":1024,"y":97.2},{"x":1024,"y":96.2},{"x":1024,"y":95.2},{"x":1024,"y":94.2},{"x":1024,"y":93.2},{"x":1024,"y":92.2},{"x":1024,"y":91.2},{"x":1024,"y":90.2},{"x":1024,"y":89.2},{"x":1024,"y":88.2},{"x":1024,"y":87.2},{"x":1024,"y":86.2},{"x":1024,"y":85.2},{"x":1024,"y":84.2},{"x":1024,"y":83.2},{"x":1024,"y":82.2},{"x":1024,"y":81.2},{"x":1024,"y":80.2},{"x":1024,"y":79.2},{"x":1024,"y":78.2},{"x":1024,"y":77.2},{"x":1024,"y":76.2},{"x":1024,"y":75.2},{"x":1024,"y":74.2},{"x":1024,"y":73.2},{"x":1024,"y":72.2},{"x":1024,"y":71.2},{"x":1024,"y":70.2},{"x":1024,"y":69.2},{"x":1024,"y":68.2},{"x":1024,"y":67.2},{"x":1024,"y":66.2},{"x":1024,"y":65.2},{"x":1024,"y":64.2},{"x":1024,"y":63.2},{"x":1024,"y":62.2},{"x":1024,"y":61.2},{"x":1024,"y":60.2},{"x":1024,"y":51.6},
      {"x":2048,"y":105.2},{"x":2048,"y":104.2},{"x":2048,"y":103.2},{"x":2048,"y":102.2},{"x":2048,"y":101.2},{"x":2048,"y":100.2},{"x":2048,"y":99.2},{"x":2048,"y":98.2},{"x":2048,"y":97.2},{"x":2048,"y":96.2},{"x":2048,"y":95.2},{"x":2048,"y":94.2},{"x":2048,"y":93.2},{"x":2048,"y":92.2},{"x":2048,"y":91.2},{"x":2048,"y":90.2},{"x":2048,"y":89.2},{"x":2048,"y":88.2},{"x":2048,"y":87.2},{"x":2048,"y":86.2},{"x":2048,"y":85.2},{"x":2048,"y":84.2},{"x":2048,"y":83.2},{"x":2048,"y":82.2},{"x":2048,"y":81.2},{"x":2048,"y":80.2},{"x":2048,"y":79.2},{"x":2048,"y":78.2},{"x":2048,"y":77.2},{"x":2048,"y":76.2},{"x":2048,"y":75.2},{"x":2048,"y":74.2},{"x":2048,"y":73.2},{"x":2048,"y":72.2},{"x":2048,"y":71.2},{"x":2048,"y":70.2},{"x":2048,"y":69.2},{"x":2048,"y":68.2},{"x":2048,"y":67.2},{"x":2048,"y":66.2},{"x":2048,"y":65.2},{"x":2048,"y":64.2},{"x":2048,"y":63.2},{"x":2048,"y":62.2},{"x":2048,"y":61.2},{"x":2048,"y":58.4},{"x":2048,"y":42},
      {"x":4096,"y":106.5},{"x":4096,"y":105.2},{"x":4096,"y":104.2},{"x":4096,"y":103.2},{"x":4096,"y":102.2},{"x":4096,"y":101.2},{"x":4096,"y":100.2},{"x":4096,"y":99.2},{"x":4096,"y":98.2},{"x":4096,"y":97.2},{"x":4096,"y":96.2},{"x":4096,"y":95.2},{"x":4096,"y":94.2},{"x":4096,"y":93.2},{"x":4096,"y":92.2},{"x":4096,"y":91.2},{"x":4096,"y":90.2},{"x":4096,"y":89.2},{"x":4096,"y":88.2},{"x":4096,"y":87.2},{"x":4096,"y":86.2},{"x":4096,"y":85.2},{"x":4096,"y":84.2},{"x":4096,"y":83.2},{"x":4096,"y":82.2},{"x":4096,"y":81.2},{"x":4096,"y":80.2},{"x":4096,"y":79.2},{"x":4096,"y":78.2},{"x":4096,"y":77.2},{"x":4096,"y":76.2},{"x":4096,"y":75.2},{"x":4096,"y":74.2},{"x":4096,"y":73.2},{"x":4096,"y":72.2},{"x":4096,"y":71.2},{"x":4096,"y":70.2},{"x":4096,"y":69.2},{"x":4096,"y":68.2},{"x":4096,"y":67.2},{"x":4096,"y":66.2},{"x":4096,"y":65.2},{"x":4096,"y":64.2},{"x":4096,"y":63.2},{"x":4096,"y":62.2},{"x":4096,"y":60.5},{"x":4096,"y":55.8},{"x":4096,"y":53.3},
      {"x":8192,"y":107.4},{"x":8192,"y":105.8},{"x":8192,"y":104.8},{"x":8192,"y":103.8},{"x":8192,"y":102.8},{"x":8192,"y":101.8},{"x":8192,"y":100.8},{"x":8192,"y":99.8},{"x":8192,"y":98.8},{"x":8192,"y":97.8},{"x":8192,"y":96.8},{"x":8192,"y":95.8},{"x":8192,"y":94.8},{"x":8192,"y":93.8},{"x":8192,"y":92.8},{"x":8192,"y":91.8},{"x":8192,"y":90.8},{"x":8192,"y":89.8},{"x":8192,"y":88.8},{"x":8192,"y":87.8},{"x":8192,"y":86.8},{"x":8192,"y":85.8},{"x":8192,"y":84.8},{"x":8192,"y":83.8},{"x":8192,"y":82.8},{"x":8192,"y":81.8},{"x":8192,"y":80.8},{"x":8192,"y":79.8},{"x":8192,"y":78.8},{"x":8192,"y":77.8},{"x":8192,"y":76.8},{"x":8192,"y":75.8},{"x":8192,"y":74.8},{"x":8192,"y":73.8},{"x":8192,"y":72.8},{"x":8192,"y":71.8},{"x":8192,"y":70.8},{"x":8192,"y":69.8},{"x":8192,"y":68.8},{"x":8192,"y":67.8},{"x":8192,"y":66.8},{"x":8192,"y":65.8},{"x":8192,"y":64.8},{"x":8192,"y":63.8},{"x":8192,"y":62.8},{"x":8192,"y":61.8},{"x":8192,"y":60},{"x":8192,"y":59.2},
      {"x":16384,"y":114},{"x":16384,"y":111.6},{"x":16384,"y":109.1},{"x":16384,"y":105.8},{"x":16384,"y":104.8},{"x":16384,"y":103.8},{"x":16384,"y":102.8},{"x":16384,"y":101.8},{"x":16384,"y":100.8},{"x":16384,"y":99.8},{"x":16384,"y":98.8},{"x":16384,"y":97.8},{"x":16384,"y":96.8},{"x":16384,"y":95.8},{"x":16384,"y":94.8},{"x":16384,"y":93.8},{"x":16384,"y":92.8},{"x":16384,"y":91.8},{"x":16384,"y":90.8},{"x":16384,"y":89.8},{"x":16384,"y":88.8},{"x":16384,"y":87.8},{"x":16384,"y":86.8},{"x":16384,"y":85.8},{"x":16384,"y":84.8},{"x":16384,"y":83.8},{"x":16384,"y":82.8},{"x":16384,"y":81.8},{"x":16384,"y":80.8},{"x":16384,"y":79.8},{"x":16384,"y":78.8},{"x":16384,"y":77.8},{"x":16384,"y":76.8},{"x":16384,"y":75.8},{"x":16384,"y":74.8},{"x":16384,"y":73.8},{"x":16384,"y":72.8},{"x":16384,"y":71.8},{"x":16384,"y":70.8},{"x":16384,"y":69.8},{"x":16384,"y":68.8},{"x":16384,"y":67.8},{"x":16384,"y":66.8},{"x":16384,"y":65.8},{"x":16384,"y":64.8},{"x":16384,"y":63.8},{"x":16384,"y":61.6},{"x":16384,"y":58},{"x":16384,"y":57.3},{"x":16384,"y":51},{"x":16384,"y":48.4},
      {"x":32768,"y":105.5},{"x":32768,"y":104.5},{"x":32768,"y":103.5},{"x":32768,"y":102.5},{"x":32768,"y":101.5},{"x":32768,"y":100.5},{"x":32768,"y":99.5},{"x":32768,"y":98.5},{"x":32768,"y":97.5},{"x":32768,"y":96.5},{"x":32768,"y":95.5},{"x":32768,"y":94.5},{"x":32768,"y":93.5},{"x":32768,"y":92.5},{"x":32768,"y":91.5},{"x":32768,"y":90.5},{"x":32768,"y":89.5},{"x":32768,"y":88.5},{"x":32768,"y":87.5},{"x":32768,"y":86.5},{"x":32768,"y":85.5},{"x":32768,"y":84.5},{"x":32768,"y":83.5},{"x":32768,"y":82.5},{"x":32768,"y":81.5},{"x":32768,"y":80.5},{"x":32768,"y":79.5},{"x":32768,"y":78.5},{"x":32768,"y":77.5},{"x":32768,"y":76.5},{"x":32768,"y":75.5},{"x":32768,"y":74.5},{"x":32768,"y":73.5},{"x":32768,"y":72.5},{"x":32768,"y":71.5},{"x":32768,"y":70.5},{"x":32768,"y":69.5},{"x":32768,"y":68.5},{"x":32768,"y":67.5},{"x":32768,"y":66.5},{"x":32768,"y":65.5},{"x":32768,"y":64.5},{"x":32768,"y":63.5},{"x":32768,"y":62.5},{"x":32768,"y":61.5},{"x":32768,"y":57},{"x":32768,"y":55.4},
      {"x":65536,"y":108},{"x":65536,"y":105.2},{"x":65536,"y":104.2},{"x":65536,"y":103.2},{"x":65536,"y":102.2},{"x":65536,"y":101.2},{"x":65536,"y":100.2},{"x":65536,"y":99.2},{"x":65536,"y":98.2},{"x":65536,"y":97.2},{"x":65536,"y":96.2},{"x":65536,"y":95.2},{"x":65536,"y":94.2},{"x":65536,"y":93.2},{"x":65536,"y":92.2},{"x":65536,"y":91.2},{"x":65536,"y":90.2},{"x":65536,"y":89.2},{"x":65536,"y":88.2},{"x":65536,"y":87.2},{"x":65536,"y":86.2},{"x":65536,"y":85.2},{"x":65536,"y":84.2},{"x":65536,"y":83.2},{"x":65536,"y":82.2},{"x":65536,"y":81.2},{"x":65536,"y":80.2},{"x":65536,"y":79.2},{"x":65536,"y":78.2},{"x":65536,"y":77.2},{"x":65536,"y":76.2},{"x":65536,"y":75.2},{"x":65536,"y":74.2},{"x":65536,"y":73.2},{"x":65536,"y":72.2},{"x":65536,"y":71.2},{"x":65536,"y":70.2},{"x":65536,"y":69.2},{"x":65536,"y":68.2},{"x":65536,"y":67.2},{"x":65536,"y":66.2},{"x":65536,"y":65.2},{"x":65536,"y":64.2},{"x":65536,"y":63.2},{"x":65536,"y":62},{"x":65536,"y":61.3},
      {"x":131072,"y":105.8},{"x":131072,"y":104.8},{"x":131072,"y":103.8},{"x":131072,"y":102.8},{"x":131072,"y":101.8},{"x":131072,"y":100.8},{"x":131072,"y":99.8},{"x":131072,"y":98.8},{"x":131072,"y":97.8},{"x":131072,"y":96.8},{"x":131072,"y":95.8},{"x":131072,"y":94.8},{"x":131072,"y":93.8},{"x":131072,"y":92.8},{"x":131072,"y":91.8},{"x":131072,"y":90.8},{"x":131072,"y":89.8},{"x":131072,"y":88.8},{"x":131072,"y":87.8},{"x":131072,"y":86.8},{"x":131072,"y":85.8},{"x":131072,"y":84.8},{"x":131072,"y":83.8},{"x":131072,"y":82.8},{"x":131072,"y":81.8},{"x":131072,"y":80.8},{"x":131072,"y":79.8},{"x":131072,"y":78.8},{"x":131072,"y":77.8},{"x":131072,"y":76.8},{"x":131072,"y":75.8},{"x":131072,"y":74.8},{"x":131072,"y":73.8},{"x":131072,"y":72.8},{"x":131072,"y":71.8},{"x":131072,"y":70.8},{"x":131072,"y":69.8},{"x":131072,"y":68.8},{"x":131072,"y":67.8},{"x":131072,"y":66.8},{"x":131072,"y":65.8},{"x":131072,"y":64.8},{"x":131072,"y":63.8},{"x":131072,"y":62.8},{"x":131072,"y":61.8},{"x":131072,"y":60.8},{"x":131072,"y":59.8},{"x":131072,"y":58.8},{"x":131072,"y":57.8},{"x":131072,"y":57},{"x":131072,"y":54},{"x":131072,"y":50.3}
    ]
  },
  "concat": [
    {
      "width": 735,
      "height": 363,
      "title": {"text": "Single File Read"},
      "data": {"name": "a"},
      "layer": [
        {
          "mark": {"type": "point", "clip": true},
          "encoding": {
            "x": {"field": "x", "type": "quantitative", "scale": {"domain": [0, 143900], "nice": false, "zero": false},
              "axis": {"values": [0,5000,10000,15000,20000,25000,30000,35000,40000,45000,50000,55000,60000,65000,70000,75000,80000,85000,90000,95000,100000,105000,110000,115000,120000,125000,130000,135000,140000],
                "labelExpr": "datum.value % 20000 === 0 ? format(datum.value / 1000, 'd') : ''",
                "tickSize": {"condition": {"test": "datum.value % 20000 === 0", "value": -11}, "value": -5.5},
                "labelPadding": 14, "title": "Buffer Size (Bytes)", "titleAnchor": "end", "titleY": 31, "titleBaseline": "alphabetic"}},
            "y": {"field": "y", "type": "quantitative", "scale": {"domain": [32.2, 96], "nice": false, "zero": false},
              "axis": {"values": [34,36,38,40,42,44,46,48,50,52,54,56,58,60,62,64,66,68,70,72,74,76,78,80,82,84,86,88,90,92,94],
                "labelExpr": "datum.value % 10 === 0 ? datum.label : ''",
                "tickSize": {"condition": {"test": "datum.value % 10 === 0", "value": -22}, "value": -11},
                "labelPadding": 30, "title": "Read Velocity (MB/s)", "titleAnchor": "end", "titleX": -54, "titleBaseline": "middle"}}
          }
        },
        {
          "data": {"values": [{"t": "×10"}]},
          "mark": {"type": "text", "align": "left", "baseline": "alphabetic", "dx": 3, "font": "Liberation Sans", "fontSize": 13.5, "color": "black"},
          "encoding": {"x": {"value": "width"}, "y": {"value": "height"}, "text": {"field": "t"}}
        },
        {
          "data": {"values": [{"t": "3"}]},
          "mark": {"type": "text", "align": "left", "baseline": "alphabetic", "dx": 26, "dy": -6, "font": "Liberation Sans", "fontSize": 10, "color": "black"},
          "encoding": {"x": {"value": "width"}, "y": {"value": "height"}, "text": {"field": "t"}}
        }
      ]
    },
    {
      "width": 735,
      "height": 363,
      "title": {"text": "3 Concurrent Reads"},
      "data": {"name": "b"},
      "layer": [
        {
          "mark": {"type": "point", "clip": true},
          "encoding": {
            "x": {"field": "x", "type": "quantitative", "scale": {"domain": [0, 143900], "nice": false, "zero": false},
              "axis": {"values": [0,5000,10000,15000,20000,25000,30000,35000,40000,45000,50000,55000,60000,65000,70000,75000,80000,85000,90000,95000,100000,105000,110000,115000,120000,125000,130000,135000,140000],
                "labelExpr": "datum.value % 20000 === 0 ? format(datum.value / 1000, 'd') : ''",
                "tickSize": {"condition": {"test": "datum.value % 20000 === 0", "value": -11}, "value": -5.5},
                "labelPadding": 14, "title": "Buffer Size (Bytes)", "titleAnchor": "end", "titleY": 31, "titleBaseline": "alphabetic"}},
            "y": {"field": "y", "type": "quantitative", "scale": {"domain": [47, 159.7], "nice": false, "zero": false},
              "axis": {"values": [50,55,60,65,70,75,80,85,90,95,100,105,110,115,120,125,130,135,140,145,150,155],
                "labelExpr": "datum.value % 20 === 0 ? datum.label : ''",
                "tickSize": {"condition": {"test": "datum.value % 20 === 0", "value": -22}, "value": -11},
                "labelPadding": 30, "title": "Read Velocity (MB/s)", "titleAnchor": "end", "titleX": -54, "titleBaseline": "middle"}}
          }
        },
        {
          "data": {"values": [{"t": "×10"}]},
          "mark": {"type": "text", "align": "left", "baseline": "alphabetic", "dx": 3, "font": "Liberation Sans", "fontSize": 13.5, "color": "black"},
          "encoding": {"x": {"value": "width"}, "y": {"value": "height"}, "text": {"field": "t"}}
        },
        {
          "data": {"values": [{"t": "3"}]},
          "mark": {"type": "text", "align": "left", "baseline": "alphabetic", "dx": 26, "dy": -6, "font": "Liberation Sans", "fontSize": 10, "color": "black"},
          "encoding": {"x": {"value": "width"}, "y": {"value": "height"}, "text": {"field": "t"}}
        }
      ]
    },
    {
      "width": 735,
      "height": 363,
      "title": {"text": "6 Concurrent Reads"},
      "data": {"name": "c"},
      "layer": [
        {
          "mark": {"type": "point", "clip": true},
          "encoding": {
            "x": {"field": "x", "type": "quantitative", "scale": {"domain": [0, 143900], "nice": false, "zero": false},
              "axis": {"values": [0,5000,10000,15000,20000,25000,30000,35000,40000,45000,50000,55000,60000,65000,70000,75000,80000,85000,90000,95000,100000,105000,110000,115000,120000,125000,130000,135000,140000],
                "labelExpr": "datum.value % 20000 === 0 ? format(datum.value / 1000, 'd') : ''",
                "tickSize": {"condition": {"test": "datum.value % 20000 === 0", "value": -11}, "value": -5.5},
                "labelPadding": 14, "title": "Buffer Size (Bytes)", "titleAnchor": "end", "titleY": 31, "titleBaseline": "alphabetic"}},
            "y": {"field": "y", "type": "quantitative", "scale": {"domain": [46, 158.9], "nice": false, "zero": false},
              "axis": {"values": [50,55,60,65,70,75,80,85,90,95,100,105,110,115,120,125,130,135,140,145,150,155],
                "labelExpr": "datum.value % 20 === 0 ? datum.label : ''",
                "tickSize": {"condition": {"test": "datum.value % 20 === 0", "value": -22}, "value": -11},
                "labelPadding": 30, "title": "Read Velocity (MB/s)", "titleAnchor": "end", "titleX": -54, "titleBaseline": "middle"}}
          }
        },
        {
          "data": {"values": [{"t": "×10"}]},
          "mark": {"type": "text", "align": "left", "baseline": "alphabetic", "dx": 3, "font": "Liberation Sans", "fontSize": 13.5, "color": "black"},
          "encoding": {"x": {"value": "width"}, "y": {"value": "height"}, "text": {"field": "t"}}
        },
        {
          "data": {"values": [{"t": "3"}]},
          "mark": {"type": "text", "align": "left", "baseline": "alphabetic", "dx": 26, "dy": -6, "font": "Liberation Sans", "fontSize": 10, "color": "black"},
          "encoding": {"x": {"value": "width"}, "y": {"value": "height"}, "text": {"field": "t"}}
        }
      ]
    },
    {
      "width": 735,
      "height": 363,
      "title": {"text": "10 Concurrent Reads", "offset": 14},
      "data": {"name": "d"},
      "layer": [
        {
          "mark": {"type": "point", "clip": true},
          "encoding": {
            "x": {"field": "x", "type": "quantitative", "scale": {"domain": [0, 143900], "nice": false, "zero": false},
              "axis": {"values": [0,5000,10000,15000,20000,25000,30000,35000,40000,45000,50000,55000,60000,65000,70000,75000,80000,85000,90000,95000,100000,105000,110000,115000,120000,125000,130000,135000,140000],
                "labelExpr": "datum.value % 20000 === 0 ? format(datum.value / 1000, 'd') : ''",
                "tickSize": {"condition": {"test": "datum.value % 20000 === 0", "value": -11}, "value": -5.5},
                "labelPadding": 14, "title": "Buffer Size (Bytes)", "titleAnchor": "end", "titleY": 31, "titleBaseline": "alphabetic"}},
            "y": {"field": "y", "type": "quantitative", "scale": {"domain": [34.8, 121], "nice": false, "zero": false},
              "axis": {"values": [36,38,40,42,44,46,48,50,52,54,56,58,60,62,64,66,68,70,72,74,76,78,80,82,84,86,88,90,92,94,96,98,100,102,104,106,108,110,112,114,116,118,120],
                "labelExpr": "datum.value % 10 === 0 ? datum.label : ''",
                "tickSize": {"condition": {"test": "datum.value % 10 === 0", "value": -22}, "value": -11},
                "labelPadding": 30, "title": "Read Velocity (MB/s)", "titleAnchor": "end", "titleX": -54, "titleBaseline": "middle"}}
          }
        },
        {
          "data": {"values": [{"t": "×10"}]},
          "mark": {"type": "text", "align": "left", "baseline": "alphabetic", "dx": 3, "font": "Liberation Sans", "fontSize": 13.5, "color": "black"},
          "encoding": {"x": {"value": "width"}, "y": {"value": "height"}, "text": {"field": "t"}}
        },
        {
          "data": {"values": [{"t": "3"}]},
          "mark": {"type": "text", "align": "left", "baseline": "alphabetic", "dx": 26, "dy": -6, "font": "Liberation Sans", "fontSize": 10, "color": "black"},
          "encoding": {"x": {"value": "width"}, "y": {"value": "height"}, "text": {"field": "t"}}
        }
      ]
    }
  ]
}
